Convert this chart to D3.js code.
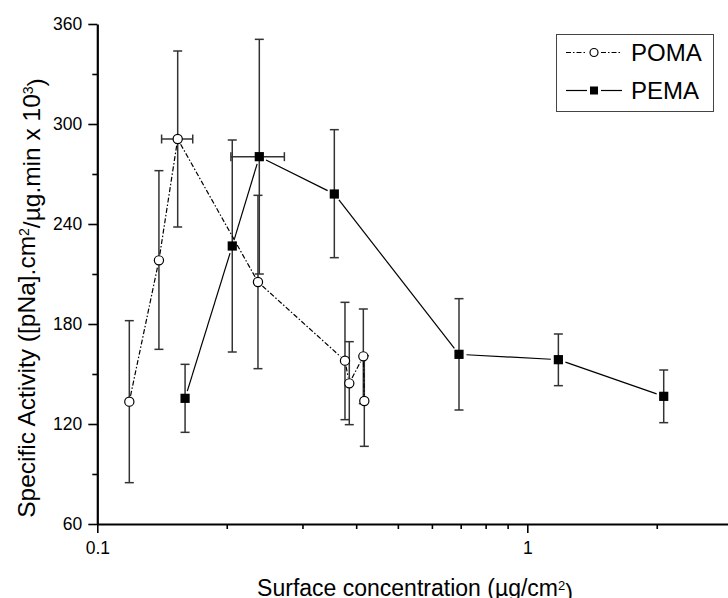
<!DOCTYPE html>
<html><head><meta charset="utf-8">
<script src="https://cdn.jsdelivr.net/npm/d3@7"></script>
<style>body{margin:0;background:#fff} svg{display:block}</style>
</head><body>
<svg id="c" width="728" height="598"></svg>
<script>
// ---- data ----
const pomaX       = [0.1187, 0.1391, 0.1538, 0.2364, 0.3767, 0.3855, 0.4156, 0.4178];
const pomaY       = [133.4, 218.2, 291.0, 205.2, 158.0, 144.4, 160.6, 133.8];
const pomaErrLow  = [84.8, 164.8, 238.2, 153.2, 122.6, 119.6, 132.2, 106.6];
const pomaErrHigh = [182.0, 272.0, 343.8, 257.2, 193.0, 169.4, 189.0, 161.0];
const pomaXErrLow  = [null, null, 0.1411, null, null, null, null, null];
const pomaXErrHigh = [null, null, 0.1667, null, null, null, null, null];

const pemaX       = [0.160, 0.206, 0.2381, 0.3558, 0.6937, 1.181, 2.076];
const pemaY       = [135.4, 226.8, 280.4, 258.0, 161.8, 158.6, 136.6];
const pemaErrLow  = [115.0, 163.2, 210.0, 219.8, 128.4, 143.0, 120.8];
const pemaErrHigh = [155.8, 290.4, 350.8, 296.6, 195.2, 174.0, 152.4];
const pemaXErrLow  = [null, null, 0.2045, null, null, null, null];
const pemaXErrHigh = [null, null, 0.2723, null, null, null, null];

const yMajorTicks = [60, 120, 180, 240, 300, 360];
const yMinorTicks = [90, 150, 210, 270, 330];
const xMajorTicks = [0.1, 1];
const xMinorTicks = [0.2, 0.3, 0.4, 0.5, 0.6, 0.7, 0.8, 0.9, 2, 3];
const xMajorLabels = ["0.1", "1"];
const seriesNames = ["POMA", "PEMA"];

// ---- chart ----
const FONT = "'Liberation Sans', Arial, Helvetica, sans-serif";
const svg = d3.select("#c").style("font-family", FONT);
const x = d3.scaleLog().domain([0.1, 3]).range([97.3, 97.3 + 430 * Math.log10(30)]);
const y = d3.scaleLinear().domain([60, 360]).range([524, 24]);

function styleAxis(g, domainW) {
  g.select(".domain").attr("stroke", "#000").attr("stroke-width", domainW);
  g.selectAll(".tick line").attr("stroke", "#000").attr("stroke-width", 1.6);
  g.selectAll(".tick text").attr("fill", "#000").style("font-size", "17.5px").style("font-family", FONT);
}

// minor ticks
svg.append("g").attr("transform", "translate(97.3,0)")
  .call(d3.axisLeft(y).tickValues(yMinorTicks).tickSize(5).tickFormat(""))
  .call(g => { g.select(".domain").remove(); g.selectAll(".tick line").attr("stroke","#000").attr("stroke-width",1.6); });
svg.append("g").attr("transform", "translate(0,524)")
  .call(d3.axisBottom(x).tickValues(xMinorTicks).tickSize(5).tickFormat(""))
  .call(g => { g.select(".domain").remove(); g.selectAll(".tick line").attr("stroke","#000").attr("stroke-width",1.6); });

// major axes
svg.append("g").attr("transform", "translate(97.3,0)")
  .call(d3.axisLeft(y).tickValues(yMajorTicks).tickSize(9).tickSizeOuter(0).tickPadding(6))
  .call(g => styleAxis(g, 2.2));
svg.append("g").attr("transform", "translate(0,524)")
  .call(d3.axisBottom(x).tickValues(xMajorTicks).tickSize(9).tickSizeOuter(0).tickPadding(9)
        .tickFormat((d, i) => xMajorLabels[i]))
  .call(g => styleAxis(g, 2.2));

// axis titles
const yt = svg.append("text").attr("transform", "translate(35,298) rotate(-90)")
  .attr("text-anchor", "middle").style("font-size", "24.5px").attr("fill", "#000");
yt.append("tspan").text("Specific Activity ([pNa].cm");
yt.append("tspan").attr("dy", "-0.45em").style("font-size", "14px").text("2");
yt.append("tspan").attr("dy", "0.45em").text("/\u00b5g.min x 10");
yt.append("tspan").attr("dy", "-0.45em").style("font-size", "14px").text("3");
yt.append("tspan").attr("dy", "0.45em").text(")");

const xt = svg.append("text").attr("x", 415).attr("y", 596)
  .attr("text-anchor", "middle").style("font-size", "23px").attr("fill", "#000");
xt.append("tspan").text("Surface concentration (\u00b5g/cm");
xt.append("tspan").attr("dy", "-0.45em").style("font-size", "13px").text("2");
xt.append("tspan").attr("dy", "0.45em").text(")");

// helpers
function mk(xs, ys, lo, hi, xlo, xhi) {
  return xs.map((d, i) => ({x: d, y: ys[i], lo: lo[i], hi: hi[i], xlo: xlo[i], xhi: xhi[i]}));
}
const poma = mk(pomaX, pomaY, pomaErrLow, pomaErrHigh, pomaXErrLow, pomaXErrHigh);
const pema = mk(pemaX, pemaY, pemaErrLow, pemaErrHigh, pemaXErrLow, pemaXErrHigh);

function drawErr(data) {
  const g = svg.append("g").attr("stroke", "#333").attr("stroke-width", 1.5).attr("fill", "none");
  const cap = 4.5;
  data.forEach(d => {
    const cx = x(d.x), cy = y(d.y);
    g.append("line").attr("x1", cx).attr("x2", cx).attr("y1", y(d.hi)).attr("y2", y(d.lo));
    g.append("line").attr("x1", cx - cap).attr("x2", cx + cap).attr("y1", y(d.hi)).attr("y2", y(d.hi));
    g.append("line").attr("x1", cx - cap).attr("x2", cx + cap).attr("y1", y(d.lo)).attr("y2", y(d.lo));
    if (d.xlo != null) {
      g.append("line").attr("x1", x(d.xlo)).attr("x2", x(d.xhi)).attr("y1", cy).attr("y2", cy);
      g.append("line").attr("x1", x(d.xlo)).attr("x2", x(d.xlo)).attr("y1", cy - cap).attr("y2", cy + cap);
      g.append("line").attr("x1", x(d.xhi)).attr("x2", x(d.xhi)).attr("y1", cy - cap).attr("y2", cy + cap);
    }
  });
}
function drawLine(data, dash, gap) {
  const g = svg.append("g").attr("stroke", "#000").attr("stroke-width", 1.2).attr("fill", "none");
  for (let i = 0; i < data.length - 1; i++) {
    const x1 = x(data[i].x), y1 = y(data[i].y), x2 = x(data[i+1].x), y2 = y(data[i+1].y);
    const L = Math.hypot(x2 - x1, y2 - y1);
    if (L <= 2 * gap) continue;
    const ux = (x2 - x1) / L, uy = (y2 - y1) / L;
    g.append("line").attr("x1", x1 + ux * gap).attr("y1", y1 + uy * gap)
      .attr("x2", x2 - ux * gap).attr("y2", y2 - uy * gap)
      .attr("stroke-dasharray", dash);
  }
}

drawErr(poma);
drawErr(pema);
drawLine(poma, "5,2,1.5,2", 6);
drawLine(pema, null, 7.5);

svg.append("g").selectAll("circle").data(poma).join("circle")
  .attr("cx", d => x(d.x)).attr("cy", d => y(d.y)).attr("r", 4.6)
  .attr("fill", "#fff").attr("stroke", "#000").attr("stroke-width", 1.2);
svg.append("g").selectAll("rect").data(pema).join("rect")
  .attr("x", d => x(d.x) - 4.6).attr("y", d => y(d.y) - 4.6).attr("width", 9.2).attr("height", 9.2)
  .attr("fill", "#000");

// legend
const lg = svg.append("g");
lg.append("rect").attr("x", 556.5).attr("y", 34.5).attr("width", 157).attr("height", 77)
  .attr("fill", "#fff").attr("stroke", "#444").attr("stroke-width", 1);
const rows = [
  {name: seriesNames[0], cy: 52.5, dash: "5,2,1.5,2", marker: "c"},
  {name: seriesNames[1], cy: 90.5, dash: null, marker: "s"}
];
rows.forEach(r => {
  lg.append("line").attr("x1", 566).attr("x2", 587).attr("y1", r.cy).attr("y2", r.cy)
    .attr("stroke", "#000").attr("stroke-width", 1.2).attr("stroke-dasharray", r.dash);
  lg.append("line").attr("x1", 601).attr("x2", 622).attr("y1", r.cy).attr("y2", r.cy)
    .attr("stroke", "#000").attr("stroke-width", 1.2).attr("stroke-dasharray", r.dash);
  if (r.marker === "c") {
    lg.append("circle").attr("cx", 594).attr("cy", r.cy).attr("r", 4)
      .attr("fill", "#fff").attr("stroke", "#000").attr("stroke-width", 1.2);
  } else {
    lg.append("rect").attr("x", 590).attr("y", r.cy - 4).attr("width", 8).attr("height", 8).attr("fill", "#000");
  }
  lg.append("text").attr("x", 631).attr("y", r.cy + 8.6).style("font-size", "24px")
    .attr("fill", "#000").text(r.name);
});
</script>
</body></html>
